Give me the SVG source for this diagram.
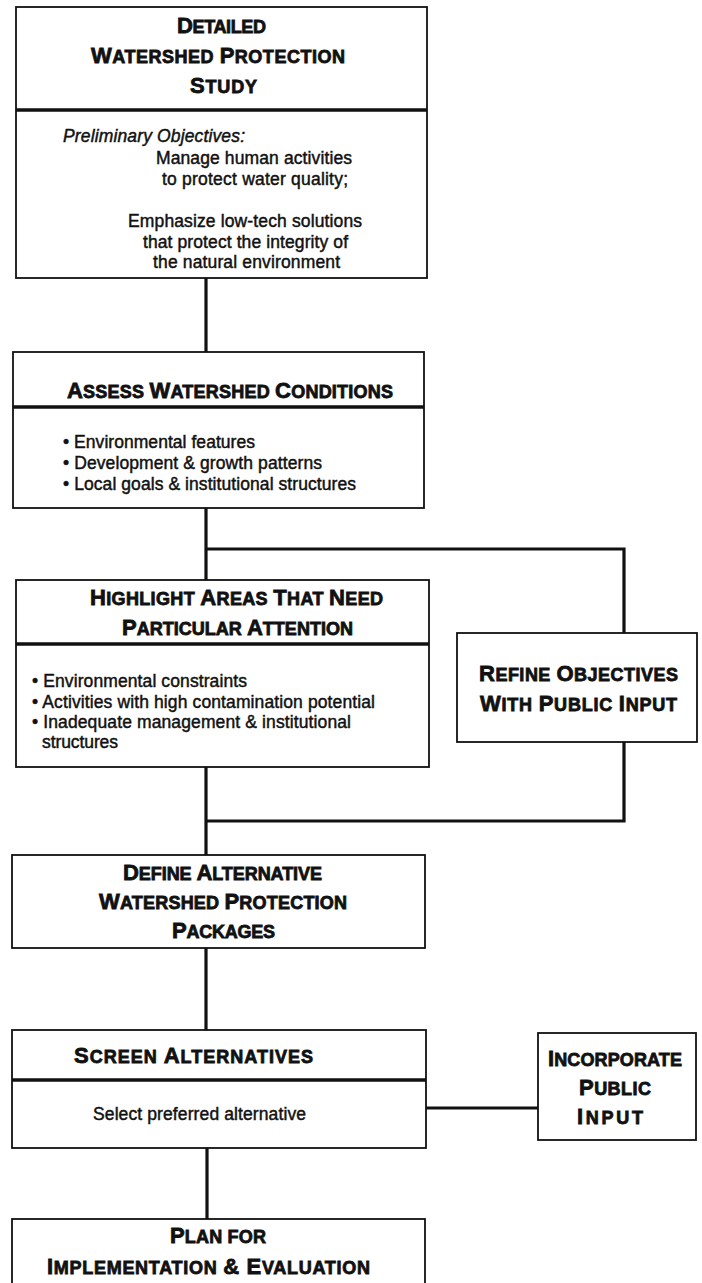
<svg xmlns="http://www.w3.org/2000/svg" width="702" height="1283" viewBox="0 0 702 1283">
<style>
.box{fill:#fff;stroke:#111;stroke-width:1.8}
.div{stroke:#111;stroke-width:3.5}
.con{fill:none;stroke:#111;stroke-width:3.2}
.h{font-family:"Liberation Sans",Arial,Helvetica,sans-serif;font-weight:bold;fill:#111;stroke:#111;stroke-width:0.8}
.c{font-size:22px}
.s{font-size:18px}
.b{font-family:"Liberation Sans",Arial,Helvetica,sans-serif;font-size:17.5px;fill:#111;stroke:#111;stroke-width:0.45}
.i{font-style:italic}
</style>
<rect width="702" height="1283" fill="#fff"/>
<g id="connectors">
<line class="con" x1="206" y1="278" x2="206" y2="352"/>
<line class="con" x1="206" y1="508" x2="206" y2="580"/>
<path class="con" d="M206 549 H624 V633"/>
<path class="con" d="M624 742 V821 H206"/>
<line class="con" x1="206" y1="767" x2="206" y2="855"/>
<line class="con" x1="206" y1="948" x2="206" y2="1030"/>
<line class="con" x1="426" y1="1108" x2="538" y2="1108"/>
<line class="con" x1="207" y1="1148" x2="207" y2="1219"/>
</g>
<g id="detailed-study">
<rect class="box" x="16" y="7" width="411" height="271"/>
<line class="div" x1="16" y1="110" x2="427" y2="110"/>
<text class="h" x="177" y="33" textLength="89"><tspan class="c">D</tspan><tspan class="s">ETAILED</tspan></text>
<text class="h" x="91" y="63" textLength="254"><tspan class="c">W</tspan><tspan class="s">ATERSHED </tspan><tspan class="c">P</tspan><tspan class="s">ROTECTION</tspan></text>
<text class="h" x="190" y="93" textLength="67"><tspan class="c">S</tspan><tspan class="s">TUDY</tspan></text>
<text class="b i" x="63" y="142" textLength="182">Preliminary Objectives:</text>
<text class="b" x="156" y="164" textLength="196">Manage human activities</text>
<text class="b" x="162" y="185" textLength="186">to protect water quality;</text>
<text class="b" x="128" y="227" textLength="234">Emphasize low-tech solutions</text>
<text class="b" x="143" y="248" textLength="205">that protect the integrity of</text>
<text class="b" x="153" y="268" textLength="187">the natural environment</text>
</g>
<g id="assess">
<rect class="box" x="13" y="352" width="411" height="156"/>
<line class="div" x1="13" y1="407" x2="424" y2="407"/>
<text class="h" x="67" y="398" textLength="326"><tspan class="c">A</tspan><tspan class="s">SSESS </tspan><tspan class="c">W</tspan><tspan class="s">ATERSHED </tspan><tspan class="c">C</tspan><tspan class="s">ONDITIONS</tspan></text>
<text class="b" x="63" y="448" textLength="192">• Environmental features</text>
<text class="b" x="63" y="469" textLength="259">• Development &amp; growth patterns</text>
<text class="b" x="63" y="490" textLength="293">• Local goals &amp; institutional structures</text>
</g>
<g id="highlight">
<rect class="box" x="16" y="580" width="413" height="187"/>
<line class="div" x1="16" y1="644" x2="429" y2="644"/>
<text class="h" x="90" y="605" textLength="293"><tspan class="c">H</tspan><tspan class="s">IGHLIGHT </tspan><tspan class="c">A</tspan><tspan class="s">REAS </tspan><tspan class="c">T</tspan><tspan class="s">HAT </tspan><tspan class="c">N</tspan><tspan class="s">EED</tspan></text>
<text class="h" x="122" y="635" textLength="231"><tspan class="c">P</tspan><tspan class="s">ARTICULAR </tspan><tspan class="c">A</tspan><tspan class="s">TTENTION</tspan></text>
<text class="b" x="32" y="687" textLength="215">• Environmental constraints</text>
<text class="b" x="32" y="708" textLength="343">• Activities with high contamination potential</text>
<text class="b" x="32" y="728" textLength="319">• Inadequate management &amp; institutional</text>
<text class="b" x="42" y="748" textLength="76">structures</text>
</g>
<g id="refine">
<rect class="box" x="457" y="633" width="240" height="109"/>
<text class="h" x="479" y="681" textLength="199"><tspan class="c">R</tspan><tspan class="s">EFINE </tspan><tspan class="c">O</tspan><tspan class="s">BJECTIVES</tspan></text>
<text class="h" x="480" y="711" textLength="197"><tspan class="c">W</tspan><tspan class="s">ITH </tspan><tspan class="c">P</tspan><tspan class="s">UBLIC </tspan><tspan class="c">I</tspan><tspan class="s">NPUT</tspan></text>
</g>
<g id="define">
<rect class="box" x="12" y="855" width="413" height="93"/>
<text class="h" x="123" y="880" textLength="199"><tspan class="c">D</tspan><tspan class="s">EFINE </tspan><tspan class="c">A</tspan><tspan class="s">LTERNATIVE</tspan></text>
<text class="h" x="99" y="909" textLength="248"><tspan class="c">W</tspan><tspan class="s">ATERSHED </tspan><tspan class="c">P</tspan><tspan class="s">ROTECTION</tspan></text>
<text class="h" x="172" y="938" textLength="103"><tspan class="c">P</tspan><tspan class="s">ACKAGES</tspan></text>
</g>
<g id="screen">
<rect class="box" x="12" y="1030" width="414" height="118"/>
<line class="div" x1="12" y1="1080" x2="426" y2="1080"/>
<text class="h" x="74" y="1063" textLength="239"><tspan class="c">S</tspan><tspan class="s">CREEN </tspan><tspan class="c">A</tspan><tspan class="s">LTERNATIVES</tspan></text>
<text class="b" x="93" y="1120" textLength="213">Select preferred alternative</text>
</g>
<g id="incorporate">
<rect class="box" x="538" y="1033" width="158" height="107"/>
<text class="h" x="548" y="1066" textLength="134"><tspan class="c">I</tspan><tspan class="s">NCORPORATE</tspan></text>
<text class="h" x="579" y="1095" textLength="72"><tspan class="c">P</tspan><tspan class="s">UBLIC</tspan></text>
<text class="h" x="577" y="1124" textLength="66"><tspan class="c">I</tspan><tspan class="s">NPUT</tspan></text>
</g>
<g id="plan">
<rect class="box" x="12" y="1219" width="413" height="90"/>
<text class="h" x="170" y="1243" textLength="96"><tspan class="c">P</tspan><tspan class="s">LAN FOR</tspan></text>
<text class="h" x="47" y="1274" textLength="323"><tspan class="c">I</tspan><tspan class="s">MPLEMENTATION </tspan><tspan class="c">&amp; E</tspan><tspan class="s">VALUATION</tspan></text>
</g>
</svg>
